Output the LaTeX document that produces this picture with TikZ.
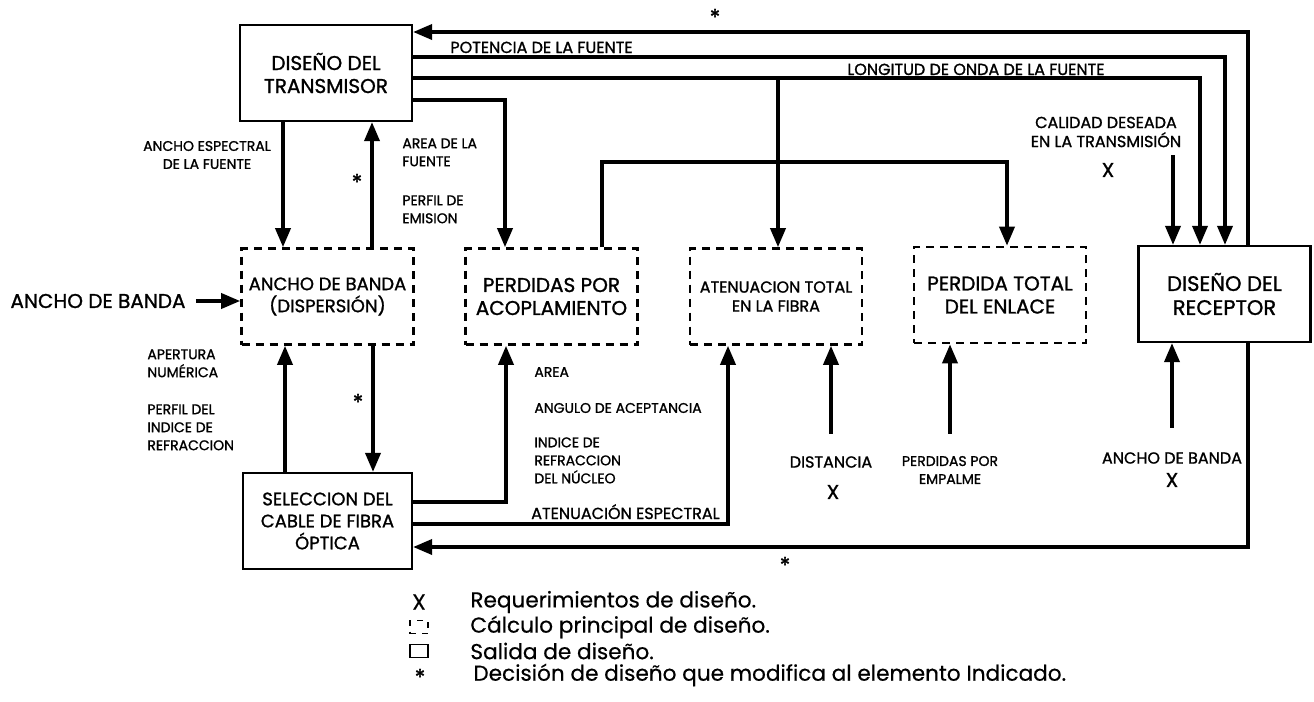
\documentclass[tikz,border=0pt]{standalone}
\usepackage{fontspec}
\usetikzlibrary{arrows.meta}
\newfontfamily\gothic[FakeBold=1.2]{Poppins}
\newfontfamily\gothicl[FakeBold=0.5]{Poppins}
\newcommand*{\etiq}{\gothic\fontsize{7}{9}\selectfont}
\newcommand*{\etiqg}{\gothic\fontsize{8}{9.5}\selectfont}
\newcommand*{\caja}{\gothic\fontsize{10}{11.5}\selectfont}
\newcommand*{\cajach}{\gothic\fontsize{9}{11}\selectfont}
\newcommand*{\leyenda}{\gothicl\fontsize{10.8}{12}\selectfont}
\newcommand*{\estrella}{\gothic\fontsize{11}{11}\selectfont *}

\tikzset{
  salida/.style={draw, line width=1.1pt, minimum width=86pt, minimum height=48pt,
    align=center, inner sep=0pt, font=\caja},
  calculo/.style={salida, dash pattern=on 4pt off 3pt, line width=1.3pt},
  flecha/.style={line width=1.8pt, -{Triangle[width=7.5pt,length=9.5pt]}},
  etiq/.style={font=\etiq, inner sep=0pt, align=left},
  etiqg/.style={etiq, font=\etiqg},
}

\begin{document}
\begin{tikzpicture}[x=0.5pt, y=-0.5pt]
    \useasboundingbox (0,0) rectangle (1314,702);

    % cajas
    \node[salida] (tx) at (326,73) {DISEÑO DEL\\TRANSMISOR};
    \node[calculo, font=\cajach] (ab) at (327.5,296.5) {ANCHO DE BANDA\\(DISPERSIÓN)};
    \node[calculo] (ac) at (551.5,296.5) {PERDIDAS POR\\ACOPLAMIENTO};
    \node[calculo, font=\etiqg] (at) at (776,296.5) {ATENUACION TOTAL\\EN LA FIBRA};
    \node[calculo] (pt) at (1000,295) {PERDIDA TOTAL\\DEL ENLACE};
    \node[salida, font=\gothic\fontsize{10.5}{12}\selectfont] (rx) at (1224.5,294) {DISEÑO DEL\\RECEPTOR};
    \node[salida, font=\cajach, minimum width=84.5pt] (sel) at (327.5,521) {SELECCION DEL\\CABLE DE FIBRA\\ÓPTICA};

    % puntos de paso
    \coordinate (v1) at (1248,32);
    \coordinate (v2) at (1225,57);
    \coordinate (v3) at (1200,78);
    \coordinate (v4) at (505,100);
    \coordinate (v5) at (602,162);
    \coordinate (v6) at (1007,162);
    \coordinate (v7) at (283,0);
    \coordinate (v8) at (372,0);
    \coordinate (v9) at (285,0);
    \coordinate (v10) at (373,0);
    \coordinate (v11) at (506,502);
    \coordinate (v12) at (728,524);
    \coordinate (v13) at (1248,547);
    \coordinate (v14) at (778,78);

    % conexiones
    \draw[flecha] (rx.north -| v1) |- (tx.east |- v1);
    \draw[flecha] (tx.east |- v2) -| (rx.north -| v2);
    \draw[flecha] (tx.east |- v3) -| (rx.north -| v3);
    \draw[flecha] (v14) -- (at.north -| v14);
    \draw[flecha] (tx.east |- v4) -| (ac.north -| v4);
    \draw[flecha] (ac.north -| v5) |- (v6) -- (pt.north -| v6);
    \draw[flecha] (tx.south -| v7) -- (ab.north -| v7);
    \draw[flecha] (ab.north -| v8) -- (tx.south -| v8);
    \draw[flecha] (sel.north -| v9) -- (ab.south -| v9);
    \draw[flecha] (ab.south -| v10) -- (sel.north -| v10);
    \draw[flecha] (sel.east |- v11) -| (ac.south -| v11);
    \draw[flecha] (sel.east |- v12) -| (at.south -| v12);
    \draw[flecha] (rx.south -| v13) |- (sel.east |- v13);

    % etiquetas de las conexiones
    \node[etiqg, anchor=base west] (potencia) at (450,53) {POTENCIA DE LA FUENTE};
    \node[etiqg, anchor=base west] (longitud) at (847,75) {LONGITUD DE ONDA DE LA FUENTE};
    \node[etiq, align=center] (espectral) at (207,155) {ANCHO ESPECTRAL\\DE LA FUENTE};
    \node[etiq, anchor=north west] (areafuente) at (402,138) {AREA DE LA\\FUENTE};
    \node[etiq, anchor=north west] (emision) at (402,195) {PERFIL DE\\EMISION};
    \node[etiq, anchor=north west] (apertura) at (147,349) {APERTURA\\NUMÉRICA};
    \node[etiq, anchor=north west] (perfil) at (147,404) {PERFIL DEL\\INDICE DE\\REFRACCION};
    \node[etiq, anchor=west] (area) at (534,372) {AREA};
    \node[etiq, anchor=west] (angulo) at (534,408) {ANGULO DE ACEPTANCIA};
    \node[etiq, anchor=north west] (nucleo) at (534,437) {INDICE DE\\REFRACCION\\DEL NÚCLEO};
    \node[etiqg, anchor=base east] (espectral2) at (720,519) {ATENUACIÓN ESPECTRAL};
    \node (st1) at (715,17) {\estrella};
    \node (st2) at (357,182) {\estrella};
    \node (st3) at (358,402) {\estrella};
    \node (st4) at (785,565) {\estrella};

    % entradas
    \node[font=\caja, inner sep=0pt] (bandain) at (98,301) {ANCHO DE BANDA};
    \draw[flecha] ([xshift=5pt]bandain.east) -- (bandain.east -| ab.west);

    \node[etiqg, align=center] (calidad) at (1106,132) {CALIDAD DESEADA\\EN LA TRANSMISIÓN};
    \node[font=\caja] (xcal) at (1108,170) {X};
    \coordinate (calin) at (1173,155);
    \draw[flecha] (calin) -- (rx.north -| calin);

    \node[etiqg] (dist) at (831,462) {DISTANCIA};
    \node[font=\caja] (xdist) at (833,492) {X};
    \draw[flecha] ([yshift=11pt]dist.north) -- (at.south -| dist.north);

    \node[etiq, align=center] (empalme) at (950,470) {PERDIDAS POR\\EMPALME};
    \draw[flecha] ([yshift=11pt]empalme.north) -- (pt.south -| empalme.north);

    \node[etiqg] (bandarx) at (1172,458) {ANCHO DE BANDA};
    \node[font=\caja] (xbanda) at (1172,480) {X};
    \draw[flecha] ([yshift=12pt]bandarx.north) -- (rx.south -| bandarx.north);

    % leyenda
    \node[font=\leyenda] (leyX) at (419,602) {X};
    \node[font=\leyenda, anchor=west, inner sep=0pt] (leyXt) at (470,602) {Requerimientos de diseño.};
    \node[draw, dash pattern=on 3pt off 3pt, line width=0.9pt, minimum width=9pt, minimum height=6.5pt, inner sep=0pt] (leyC) at (419,627) {};
    \node[font=\leyenda, anchor=west, inner sep=0pt] (leyCt) at (470,627) {Cálculo principal de diseño.};
    \node[draw, line width=0.7pt, minimum width=9pt, minimum height=6.5pt, inner sep=0pt] (leyS) at (419,651) {};
    \node[font=\leyenda, anchor=west, inner sep=0pt] (leySt) at (470,651) {Salida de diseño.};
    \node (leyE) at (420,677) {\estrella};
    \node[font=\leyenda, anchor=west, inner sep=0pt] (leyEt) at (473,675) {Decisión de diseño que modifica al elemento Indicado.};
\end{tikzpicture}
\end{document}
